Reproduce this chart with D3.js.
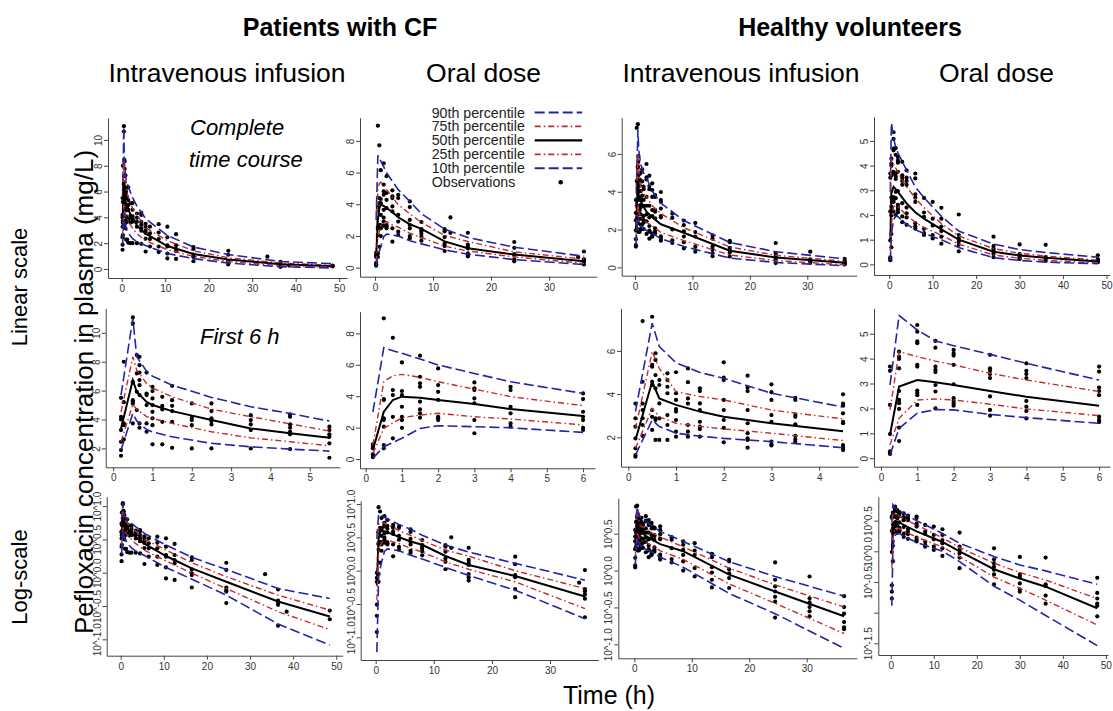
<!DOCTYPE html>
<html>
<head>
<meta charset="utf-8">
<script src="https://cdn.jsdelivr.net/npm/d3@7"></script>
<style>
body { margin: 0; background: #fff; }
svg text { font-family: "Liberation Sans", Arial, sans-serif; }
</style>
</head>
<body>
<svg id="chart" width="1113" height="711"></svg>
<script>
// ---------- data (mg/L against h) ----------
// Patients with CF, intravenous infusion
const cfIvTimes = [0.2, 0.5, 0.6, 0.85, 1, 1.5, 2.5, 3.5, 4.5, 5.5, 10.5, 16.5, 24.5, 36.5, 48.5];
const cfIvP90 = [5.69, 11.0, 8.34, 7.35, 7.0, 6.38, 5.53, 4.88, 4.42, 3.89, 2.6, 1.7, 1.12, 0.58, 0.41];
const cfIvP75 = [4.53, 8.34, 7.42, 6.5, 6.19, 5.57, 4.72, 4.19, 3.70, 3.20, 2.19, 1.41, 0.87, 0.46, 0.275];
const cfIvP50 = [3.38, 6.73, 5.92, 5.22, 5.0, 4.58, 3.96, 3.38, 3.04, 2.73, 1.78, 1.16, 0.73, 0.37, 0.22];
const cfIvP25 = [2.46, 5.05, 4.7, 4.2, 4.08, 3.73, 3.15, 2.73, 2.46, 2.18, 1.5, 0.98, 0.58, 0.26, 0.14];
const cfIvP10 = [1.88, 4.42, 3.9, 3.3, 3.15, 2.80, 2.35, 2.11, 1.95, 1.81, 1.2, 0.80, 0.46, 0.17, 0.082];
const cfIvObsTimes = [0.2, 0.27, 0.5, 0.6, 0.67, 0.85, 1, 1.25, 1.5, 2, 2.5, 3.5, 4.5, 5.5, 6.5, 8.5, 10.5, 12.5, 16.5, 24.5, 33.5, 36.5, 38.5, 48.5];
const cfIvObsConc = [
  [5.5, 4.19, 4.0, 3.27, 2.46, 1.88, 1.49],
  [8.0, 5.2, 3.73, 3.61, 2.62],
  [11.07, 10.65, 6.61, 6.55, 5.34, 5.22, 5.1, 3.73],
  [8.46, 7.19, 5.92, 4.65],
  [8.34, 7.76, 7.25, 6.73, 6.38, 5.69, 3.73, 3.43],
  [7.25, 5.8, 5.69, 5.0, 3.73, 3.15],
  [6.26, 5.97, 5.46, 5.0, 4.53, 4.08, 3.61, 2.28],
  [5.57, 4.95, 4.7, 3.84, 2.28],
  [6.33, 5.34, 4.95, 4.58, 3.84, 2.04],
  [5.11, 4.12, 3.96, 3.61, 2.0],
  [5.11, 4.58, 4.08, 3.89, 3.66, 2.0],
  [4.30, 3.96, 3.66, 3.27, 2.0],
  [4.35, 4.19, 3.66, 3.43, 3.15, 2.97, 1.95],
  [3.50, 3.27, 2.97, 2.80, 2.35, 1.35],
  [3.28, 2.76, 2.32, 1.74],
  [3.47, 2.82, 2.32, 1.74, 1.31],
  [3.28, 2.46, 1.84, 1.74, 1.2, 0.82],
  [2.7, 1.84, 1.55, 1.38, 0.78],
  [1.70, 1.55, 1.12, 0.98, 0.92, 0.60],
  [1.41, 1.10, 0.60, 0.55, 0.52, 0.35],
  [0.95],
  [0.56, 0.38, 0.35, 0.33, 0.16],
  [0.26],
  [0.27, 0.20]
];

// Patients with CF, oral dose
const cfOralTimes = [0.2, 0.5, 0.75, 1, 1.5, 2, 3, 4, 6, 8, 12, 16, 24, 36];
const cfOralP90 = [3.0, 7.09, 6.9, 6.73, 6.37, 5.99, 5.45, 4.92, 4.18, 3.4, 2.43, 1.9, 1.29, 0.72];
const cfOralP75 = [0.89, 4.92, 5.3, 5.39, 5.2, 4.92, 4.45, 3.97, 3.40, 2.85, 2.04, 1.65, 1.0, 0.54];
const cfOralP50 = [0.6, 3.01, 3.76, 3.97, 3.90, 3.76, 3.50, 3.18, 2.74, 2.45, 1.66, 1.22, 0.83, 0.41];
const cfOralP25 = [0.36, 1.95, 2.3, 2.63, 2.8, 2.91, 2.69, 2.55, 2.17, 1.9, 1.36, 1.05, 0.68, 0.27];
const cfOralP10 = [0.06, 0.78, 1.05, 1.32, 1.95, 2.12, 2.06, 1.99, 1.70, 1.5, 1.12, 0.85, 0.51, 0.19];
const cfOralObsTimes = [0.2, 0.5, 0.75, 1, 1.5, 2, 3, 4, 6, 8, 12, 13, 16, 24, 35, 36];
const cfOralObsConc = [
  [0.93, 0.78, 0.68, 0.31, 0.21, 0.12],
  [8.96, 3.82, 3.76, 2.59, 2.48, 2.06, 0.89, 0.68],
  [7.72, 4.39, 4.07, 2.69, 1.32],
  [6.15, 4.33, 4.07, 3.33, 2.69, 2.48, 1.99],
  [6.58, 5.24, 4.82, 4.60, 3.65, 3.16, 2.91, 2.63],
  [5.77, 4.71, 4.28, 3.76, 2.69, 2.59, 2.48],
  [4.88, 4.50, 4.39, 3.86, 3.55, 2.48, 1.64],
  [4.60, 4.39, 3.33, 2.91, 2.27, 2.06],
  [4.18, 3.82, 3.01, 2.69, 2.48, 1.99, 1.85],
  [2.88, 2.43, 2.29, 2.14, 1.95, 1.7],
  [2.43, 2.29, 1.93, 1.53, 1.36, 1.05],
  [3.17, 2.2],
  [2.2, 1.45, 1.32, 1.22, 0.89, 0.8, 0.71],
  [1.62, 1.25, 0.86, 0.8, 0.53, 0.40],
  [0.66],
  [1.02, 0.53, 0.49, 0.44, 0.38, 0.20]
];

// Healthy volunteers, intravenous infusion
const hvIvTimes = [0.15, 0.5, 0.65, 1, 1.5, 2, 3, 4.5, 8.5, 16.5, 24.5, 36.5];
const hvIvP90 = [3.2, 7.28, 6.2, 5.45, 5.0, 4.73, 4.04, 3.40, 2.48, 1.32, 0.83, 0.45];
const hvIvP75 = [2.4, 5.96, 5.19, 4.11, 3.89, 3.73, 3.26, 2.85, 2.1, 1.08, 0.64, 0.32];
const hvIvP50 = [1.88, 4.57, 3.80, 3.50, 3.19, 2.95, 2.65, 2.28, 1.83, 0.88, 0.52, 0.24];
const hvIvP25 = [1.49, 3.34, 2.95, 2.65, 2.5, 2.39, 2.19, 1.85, 1.42, 0.66, 0.36, 0.14];
const hvIvP10 = [1.18, 2.80, 2.5, 2.19, 2.05, 1.95, 1.80, 1.52, 1.11, 0.49, 0.26, 0.088];
const hvIvObsTimes = [0.15, 0.3, 0.5, 0.57, 0.65, 0.82, 1, 1.25, 1.5, 2, 2.5, 3, 3.5, 4.5, 6.5, 8.5, 10.5, 13.5, 16.5, 24.5, 30.5, 36.5];
const hvIvObsConc = [
  [3.56, 2.88, 2.49, 1.95, 1.49, 1.18, 1.1],
  [7.38, 4.57, 3.56, 3.26, 2.88, 2.57, 2.07],
  [7.58, 5.35, 5.27, 4.57, 4.42, 3.26, 2.95, 2.34],
  [5.89, 5.58, 4.88, 4.27, 2.88, 2.80, 1.88],
  [4.65, 4.42, 3.57, 2.88, 1.88],
  [4.96, 4.65, 4.34, 4.04, 3.03, 2.57, 1.88],
  [5.01, 4.04, 3.73, 3.31, 3.19, 2.80, 2.26, 2.03],
  [5.19, 4.55, 3.80, 3.56, 2.57, 2.26, 2.03],
  [4.27, 4.14, 3.57, 3.26, 2.72, 2.49, 2.38, 2.03],
  [5.47, 4.76, 4.65, 3.73, 3.26, 2.80, 2.44, 1.77],
  [4.85, 4.3, 4.14, 3.26, 2.65, 2.19, 1.95, 1.88, 1.52],
  [4.45, 4.09, 3.73, 3.03, 2.72, 1.8, 1.67, 1.62],
  [3.83, 3.73, 3.03, 2.95, 2.6, 2.07, 1.92, 1.8],
  [3.99, 3.56, 3.46, 3.11, 2.72, 2.65, 1.64, 1.52, 1.41],
  [2.84, 2.62, 2.01, 1.43, 1.29],
  [2.48, 2.24, 1.91, 1.63, 1.33, 1.0],
  [2.35, 1.87, 1.63, 1.08, 0.83],
  [1.69, 1.52, 1.11, 0.94, 0.75, 0.59],
  [1.40, 1.33, 1.04, 0.92, 0.79, 0.58],
  [1.29, 0.75, 0.61, 0.52, 0.44, 0.38, 0.23],
  [0.83, 0.42, 0.37, 0.32, 0.28, 0.24],
  [0.45, 0.32, 0.26, 0.20, 0.17, 0.16]
];

// Healthy volunteers, oral dose
const hvOralTimes = [0.25, 0.5, 1, 1.5, 2, 3, 4, 6, 8, 12, 16, 24, 30, 36, 48];
const hvOralP90 = [2.94, 5.73, 5.15, 4.71, 4.52, 4.17, 3.81, 3.14, 2.7, 1.95, 1.35, 0.82, 0.6, 0.48, 0.29];
const hvOralP75 = [1.94, 4.28, 4.08, 3.9, 3.75, 3.41, 3.14, 2.68, 2.3, 1.65, 1.15, 0.64, 0.45, 0.34, 0.17];
const hvOralP50 = [0.94, 2.88, 3.14, 3.05, 2.94, 2.70, 2.47, 2.11, 1.85, 1.42, 1.0, 0.51, 0.36, 0.265, 0.118];
const hvOralP25 = [0.54, 1.6, 2.34, 2.38, 2.34, 2.17, 1.98, 1.71, 1.5, 1.18, 0.82, 0.38, 0.25, 0.16, 0.063];
const hvOralP10 = [0.13, 1.2, 1.81, 1.95, 1.94, 1.76, 1.63, 1.40, 1.25, 1.0, 0.68, 0.27, 0.16, 0.09, 0.029];
const hvOralObsTimes = [0.25, 0.5, 1, 1.5, 2, 3, 4, 6, 8, 10, 12, 16, 24, 30, 36, 48];
const hvOralObsConc = [
  [3.68, 3.51, 2.14, 0.97, 0.28, 0.22, 0.17],
  [4.28, 4.08, 3.99, 3.61, 2.70, 2.34, 2.21, 1.98, 1.23, 0.69],
  [5.35, 5.08, 4.69, 4.62, 3.75, 3.68, 2.72, 2.63, 2.53, 2.14],
  [4.71, 4.44, 3.68, 3.55, 3.46, 2.94, 2.68, 2.0],
  [4.35, 4.21, 4.12, 3.75, 2.97, 2.41, 2.30, 2.21, 2.11],
  [4.15, 3.61, 3.51, 3.38, 3.22, 2.48, 1.94, 1.71],
  [3.81, 3.51, 3.38, 3.22, 2.30, 2.07, 1.9, 1.6],
  [3.68, 3.48, 2.84, 2.70, 2.53, 1.67, 1.54, 1.45],
  [2.69, 2.1, 1.92, 1.44, 1.27, 1.19],
  [2.53, 1.85, 1.57, 1.19, 1.05],
  [2.29, 1.85, 1.53, 1.35, 1.12, 0.84],
  [2.02, 1.19, 1.05, 0.93, 0.79, 0.53],
  [1.12, 0.74, 0.64, 0.56, 0.5, 0.42, 0.29],
  [0.81, 0.42, 0.38, 0.30, 0.24, 0.22],
  [0.79, 0.29, 0.27, 0.19, 0.14],
  [0.37, 0.21, 0.17, 0.14, 0.13, 0.087]
];

const groupTitles = ["Patients with CF", "Healthy volunteers"];
const routeTitles = ["Intravenous infusion", "Oral dose", "Intravenous infusion", "Oral dose"];
const legendLabels = ["90th percentile", "75th percentile", "50th percentile", "25th percentile", "10th percentile", "Observations"];

// ---------- build ----------
const groups = {
  cfIv:   {t: cfIvTimes,   p: [cfIvP90, cfIvP75, cfIvP50, cfIvP25, cfIvP10],   ot: cfIvObsTimes,   oc: cfIvObsConc},
  cfOral: {t: cfOralTimes, p: [cfOralP90, cfOralP75, cfOralP50, cfOralP25, cfOralP10], ot: cfOralObsTimes, oc: cfOralObsConc},
  hvIv:   {t: hvIvTimes,   p: [hvIvP90, hvIvP75, hvIvP50, hvIvP25, hvIvP10],   ot: hvIvObsTimes,   oc: hvIvObsConc},
  hvOral: {t: hvOralTimes, p: [hvOralP90, hvOralP75, hvOralP50, hvOralP25, hvOralP10], ot: hvOralObsTimes, oc: hvOralObsConc}
};

const blue = "#2424a8", red = "#c42a2a";
const lineStyles = [
  {color: blue, dash: "10,4", width: 1.6},
  {color: red, dash: "6,3,1.5,3", width: 1.4},
  {color: "#000", dash: null, width: 2},
  {color: red, dash: "6,3,1.5,3", width: 1.4},
  {color: blue, dash: "10,4", width: 1.6}
];

// plot regions and axis limits (log rows: limits in log10 units)
const panels = [
  {g: "cfIv",   log: false, x0: 108,   x1: 347,    y0: 118,   y1: 278,   xd: [-3.15, 51.8], yd: [-0.7, 11.7],  xt: [0, 10, 20, 30, 40, 50], yt: [0, 2, 4, 6, 8, 10]},
  {g: "cfOral", log: false, x0: 360,   x1: 596.7,  y0: 117.7, y1: 276.7, xd: [-2.58, 38.2], yd: [-0.57, 9.46], xt: [0, 10, 20, 30], yt: [0, 2, 4, 6, 8]},
  {g: "hvIv",   log: false, x0: 621.7, x1: 856.7,  y0: 117.7, y1: 275.7, xd: [-2.32, 38.6], yd: [-0.44, 7.92], xt: [0, 10, 20, 30], yt: [0, 2, 4, 6]},
  {g: "hvOral", log: false, x0: 874,   x1: 1110,   y0: 116.7, y1: 275,   xd: [-3.5, 50.8],  yd: [-0.43, 5.98], xt: [0, 10, 20, 30, 40, 50], yt: [0, 1, 2, 3, 4, 5]},
  {g: "cfIv",   log: false, x0: 105.7, x1: 340,    y0: 308.3, y1: 467.3, xd: [-0.19, 5.77], yd: [0.69, 11.7],  xt: [0, 1, 2, 3, 4, 5], yt: [2, 4, 6, 8, 10]},
  {g: "cfOral", log: false, x0: 360,   x1: 595,    y0: 311.7, y1: 468.3, xd: [-0.157, 6.33], yd: [-0.59, 9.38], xt: [0, 1, 2, 3, 4, 5, 6], yt: [0, 2, 4, 6, 8]},
  {g: "hvIv",   log: false, x0: 621,   x1: 858.3,  y0: 308.3, y1: 466.7, xd: [-0.153, 4.82], yd: [0.64, 7.97], xt: [0, 1, 2, 3, 4], yt: [2, 4, 6]},
  {g: "hvOral", log: false, x0: 874,   x1: 1110,   y0: 308.3, y1: 466.7, xd: [-0.19, 6.3],  yd: [-0.34, 6.02], xt: [0, 1, 2, 3, 4, 5, 6], yt: [0, 1, 2, 3, 4, 5]},
  {g: "cfIv",   log: true,  x0: 106.7, x1: 342.7,  y0: 496.7, y1: 655.7, xd: [-3.25, 51.5], yd: [-1.246, 1.141], xt: [0, 10, 20, 30, 40, 50], yt: [-1, -0.5, 0, 0.5, 1]},
  {g: "cfOral", log: true,  x0: 360.7, x1: 598.3,  y0: 500.7, y1: 660,   xd: [-2.58, 38.3], yd: [-1.34, 1.05], xt: [0, 10, 20, 30], yt: [-1, -0.5, 0, 0.5, 1]},
  {g: "hvIv",   log: true,  x0: 618.3, x1: 856.7,  y0: 498.3, y1: 658.3, xd: [-2.79, 38.7], yd: [-1.19, 0.98], xt: [0, 10, 20, 30], yt: [-1, -0.5, 0, 0.5]},
  {g: "hvOral", log: true,  x0: 878.3, x1: 1108,   y0: 496.7, y1: 655,   xd: [-2.9, 50.5],  yd: [-1.69, 0.89], xt: [0, 10, 20, 30, 40, 50], yt: [-1.5, -1, -0.5, 0, 0.5], hide: [-1]}
];

const svg = d3.select("#chart");
svg.append("rect").attr("width", 1113).attr("height", 711).attr("fill", "#fff");
const defs = svg.append("defs");
const tickFont = "Liberation Sans, Arial, sans-serif";

panels.forEach(function(p, i) {
  const data = groups[p.g];
  const x = d3.scaleLinear().domain(p.xd).range([p.x0, p.x1]);
  const y = p.log
    ? d3.scaleLog().domain(p.yd.map(v => Math.pow(10, v))).range([p.y1, p.y0])
    : d3.scaleLinear().domain(p.yd).range([p.y1, p.y0]);
  const tMax = p.xd[1];

  defs.append("clipPath").attr("id", "clip" + i)
    .append("rect").attr("x", p.x0).attr("y", p.y0)
    .attr("width", p.x1 - p.x0).attr("height", p.y1 - p.y0);

  const g = svg.append("g");

  // observations
  const pts = [];
  data.ot.forEach((t, k) => { if (t <= tMax) data.oc[k].forEach(c => pts.push([t, c])); });
  g.append("g").attr("clip-path", "url(#clip" + i + ")")
    .selectAll("circle").data(pts).enter().append("circle")
    .attr("cx", d => x(d[0])).attr("cy", d => y(d[1]))
    .attr("r", 2.1).attr("fill", "#000");

  // percentile curves
  const line = d3.line().x(d => x(d[0])).y(d => y(d[1]));
  const lg = g.append("g").attr("clip-path", "url(#clip" + i + ")");
  data.p.forEach(function(series, s) {
    const pts2 = data.t.map((t, k) => [t, series[k]]).filter(d => d[0] <= tMax);
    const st = lineStyles[s];
    lg.append("path").attr("d", line(pts2))
      .attr("fill", "none").attr("stroke", st.color)
      .attr("stroke-width", st.width)
      .attr("stroke-dasharray", st.dash);
  });

  // axes
  const xAxis = d3.axisBottom(x).tickValues(p.xt).tickFormat(d3.format("d"))
    .tickSize(4).tickSizeOuter(0).tickPadding(3);
  g.append("g").attr("transform", "translate(0," + p.y1 + ")")
    .attr("color", "#444").call(xAxis)
    .call(a => a.selectAll("text").attr("font-size", 10).attr("fill", "#333")
      .attr("font-family", tickFont));

  let yAxis = d3.axisLeft(y).tickSize(4).tickSizeOuter(0);
  if (p.log) {
    const hide = p.hide || [];
    yAxis = yAxis.tickValues(p.yt.map(v => Math.pow(10, v)))
      .tickFormat(d => {
        const e = Math.round(Math.log10(d) * 10) / 10;
        return hide.includes(e) ? "" : "10^" + e.toFixed(1);
      });
  } else {
    yAxis = yAxis.tickValues(p.yt).tickFormat(d3.format("d"));
  }
  g.append("g").attr("transform", "translate(" + p.x0 + ",0)")
    .attr("color", "#444").call(yAxis)
    .call(a => a.selectAll("text")
      .attr("x", 0).attr("dy", 0).attr("text-anchor", "middle")
      .attr("transform", "translate(-6,0) rotate(-90)")
      .attr("font-size", 10).attr("fill", "#333")
      .attr("font-family", tickFont));
});

// legend inside the CF oral linear panel
const legend = svg.append("g").attr("transform", "translate(431.7,112.5)");
legendLabels.forEach(function(lab, i) {
  const row = legend.append("g").attr("transform", "translate(0," + (i * 13.95) + ")");
  row.append("text").attr("x", 0).attr("y", 5).attr("font-size", 14.2).attr("fill", "#222").text(lab);
  if (i < 5) {
    const st = lineStyles[i];
    row.append("line").attr("x1", 103).attr("x2", 150.5).attr("y1", 0).attr("y2", 0)
      .attr("stroke", st.color).attr("stroke-width", st.width + 0.4)
      .attr("stroke-dasharray", st.dash);
  } else {
    row.append("circle").attr("cx", 129).attr("cy", 0).attr("r", 2.3).attr("fill", "#000");
  }
});

// titles
const groupX = [340, 850];
groupTitles.forEach((t, i) => svg.append("text").attr("x", groupX[i]).attr("y", 36)
  .attr("text-anchor", "middle").attr("font-size", 25).attr("font-weight", "bold").text(t));
const routeX = [227, 483.5, 741, 996.5];
routeTitles.forEach((t, i) => svg.append("text").attr("x", routeX[i]).attr("y", 82)
  .attr("text-anchor", "middle").attr("font-size", 26.5).text(t));

svg.append("text").attr("x", 190).attr("y", 135).attr("font-size", 22).attr("font-style", "italic").text("Complete");
svg.append("text").attr("x", 189).attr("y", 167).attr("font-size", 22).attr("font-style", "italic").text("time course");
svg.append("text").attr("x", 200).attr("y", 344).attr("font-size", 22).attr("font-style", "italic").text("First 6 h");

svg.append("text").attr("transform", "translate(27,287) rotate(-90)")
  .attr("text-anchor", "middle").attr("font-size", 22).text("Linear scale");
svg.append("text").attr("transform", "translate(27,577) rotate(-90)")
  .attr("text-anchor", "middle").attr("font-size", 22).text("Log-scale");
svg.append("text").attr("transform", "translate(93,392) rotate(-90)")
  .attr("text-anchor", "middle").attr("font-size", 26).text("Pefloxacin concentration in plasma (mg/L)");
svg.append("text").attr("x", 609).attr("y", 704)
  .attr("text-anchor", "middle").attr("font-size", 25).text("Time (h)");
</script>
</body>
</html>
